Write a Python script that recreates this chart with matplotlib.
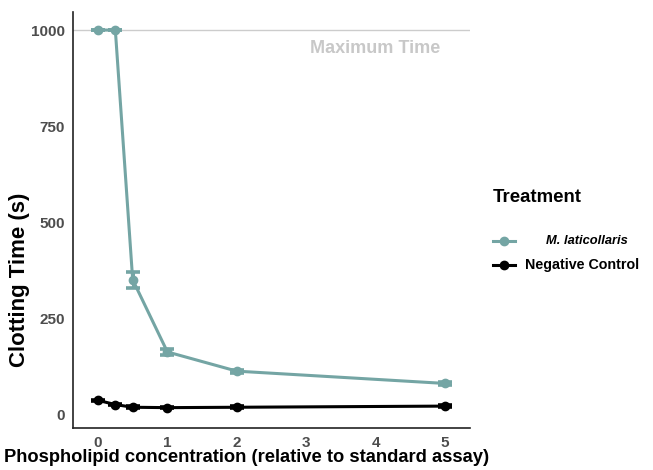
import matplotlib
matplotlib.use("Agg")
import matplotlib.pyplot as plt
from matplotlib.lines import Line2D

# ---- data ----
conc = [0, 0.25, 0.5, 1, 2, 5]
mlat_mean = [1000, 1000, 350, 162, 112, 80]
mlat_err = [0, 0, 21, 7, 4, 4]
neg_mean = [36, 25, 18, 17, 18, 21]
neg_err = [2, 2, 2, 2, 2, 2]
xticks = [0, 1, 2, 3, 4, 5]
yticks = [0, 250, 500, 750, 1000]
max_time = 1000

teal = "#74A5A4"
font = "Liberation Sans"
plt.rcParams["font.family"] = [font, "DejaVu Sans"]

fig = plt.figure(figsize=(6.53, 4.70), dpi=100)
ax = fig.add_axes([73/653, 1-428/470, (470-73)/653, (428-12)/470])

ax.axhline(max_time, color="#cccccc", lw=1.0, zorder=0)
ax.text(4.0, 953, "Maximum Time", color="#c8c8c8", fontsize=13, fontweight="bold",
        ha="center", va="center")

for mean, err, col in [(mlat_mean, mlat_err, teal), (neg_mean, neg_err, "black")]:
    ax.plot(conc, mean, color=col, lw=2.2, zorder=3)
    ax.errorbar(conc, mean, yerr=err, fmt="o", color=col, ms=6, capsize=5,
                capthick=2.6, elinewidth=2.2, zorder=4)

ax.set_xlim(-0.36, 5.36)
ax.set_ylim(-36, 1047)
ax.set_xticks(xticks)
ax.set_yticks(yticks)
ax.tick_params(length=0, pad=6, labelsize=11, labelcolor="#4d4d4d")
for lab in ax.get_xticklabels() + ax.get_yticklabels():
    lab.set_fontweight("bold")
for s in ["top", "right"]:
    ax.spines[s].set_visible(False)
for s in ["left", "bottom"]:
    ax.spines[s].set_linewidth(1.2)
    ax.spines[s].set_color("#222222")

fig.text(247/653, 1-458/470, "Phospholipid concentration (relative to standard assay)",
         fontsize=13.2, fontweight="bold", ha="center", va="center")
fig.text(20/653, 1-280/470, "Clotting Time (s)", fontsize=16, fontweight="bold",
         ha="center", va="center", rotation=90)

# legend (manual)
fig.text(493/653, 1-197/470, "Treatment", fontsize=13.4, fontweight="bold",
         ha="left", va="center")
for yy, col, label, style in [(241, teal, "M. laticollaris", "italic"),
                              (265, "black", "Negative Control", "normal")]:
    fy = 1 - yy/470
    fig.add_artist(Line2D([493/653, 515/653], [fy, fy], color=col, lw=2.2,
                          transform=fig.transFigure))
    fig.add_artist(Line2D([504/653], [fy], color=col, marker="o", ms=6,
                          transform=fig.transFigure))
    fig.add_artist(Line2D([504/653, 504/653], [fy - 3/470, fy + 3/470], color=col, lw=2,
                          transform=fig.transFigure))
    if style == "italic":
        fig.text(546/653, fy, label, fontsize=9.3, fontweight="bold", fontstyle=style,
                 ha="left", va="center")
    else:
        fig.text(525/653, fy, label, fontsize=10.3, fontweight="bold",
                 ha="left", va="center")

fig.savefig("out.png", dpi=100)
